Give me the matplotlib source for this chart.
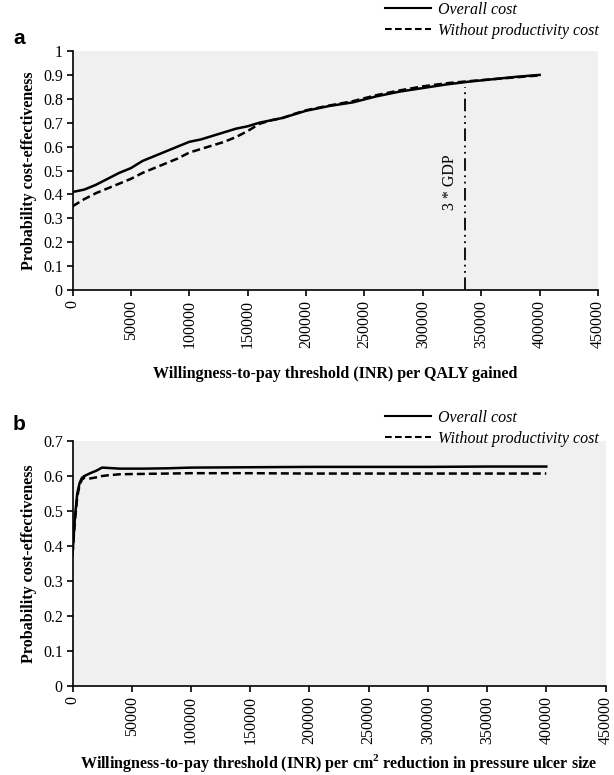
import matplotlib
import matplotlib.pyplot as plt
from matplotlib.lines import Line2D

matplotlib.use("Agg")

plt.rcParams["font.family"] = ["Liberation Serif", "DejaVu Serif"]
plt.rcParams["mathtext.fontset"] = "custom"
plt.rcParams["mathtext.rm"] = "Liberation Serif"
plt.rcParams["mathtext.bf"] = "Liberation Serif:bold"

# Panel a: WTP per QALY gained
wtp_a = [0, 10000, 20000, 30000, 40000, 50000, 60000, 70000, 80000, 90000,
         100000, 110000, 120000, 130000, 140000, 150000, 160000, 170000,
         180000, 190000, 200000, 220000, 240000, 260000, 280000, 300000,
         320000, 340000, 360000, 380000, 400000]
overall_a = [0.41, 0.42, 0.44, 0.465, 0.49, 0.51, 0.54, 0.56, 0.58, 0.60,
             0.62, 0.63, 0.645, 0.66, 0.675, 0.685, 0.70, 0.71, 0.72, 0.735,
             0.75, 0.77, 0.785, 0.81, 0.83, 0.845, 0.86, 0.872, 0.882, 0.892,
             0.90]
without_a = [0.35, 0.38, 0.405, 0.425, 0.445, 0.465, 0.49, 0.51, 0.53, 0.55,
             0.575, 0.59, 0.605, 0.62, 0.64, 0.665, 0.695, 0.71, 0.72, 0.737,
             0.752, 0.772, 0.79, 0.815, 0.835, 0.852, 0.865, 0.874, 0.882,
             0.89, 0.898]
gdp_threshold = 336000
gdp_line_top = 0.85

# Panel b: WTP per cm2 reduction in ulcer size
wtp_b = [0, 2000, 4000, 6000, 8000, 10000, 15000, 20000, 25000, 30000,
         40000, 60000, 80000, 100000, 150000, 200000, 250000, 300000,
         350000, 400000]
overall_b = [0.375, 0.48, 0.55, 0.58, 0.595, 0.60, 0.608, 0.615, 0.624,
             0.623, 0.621, 0.621, 0.622, 0.624, 0.625, 0.626, 0.626, 0.626,
             0.627, 0.627]
without_b = [0.375, 0.47, 0.54, 0.575, 0.59, 0.595, 0.593, 0.596, 0.60,
             0.602, 0.605, 0.606, 0.607, 0.608, 0.608, 0.607, 0.607, 0.607,
             0.607, 0.607]

x_ticks = list(range(0, 450001, 50000))
labels = ["Overall cost", "Without productivity cost"]

W, H = 614, 775
fig = plt.figure(figsize=(W / 100, H / 100), dpi=100)


def style_axes(ax, ymax, ystep):
    ax.set_facecolor("#f0f0f0")
    for s in ("top", "right"):
        ax.spines[s].set_visible(False)
    for s in ("left", "bottom"):
        ax.spines[s].set_linewidth(1.2)
    ax.set_xlim(0, 450000)
    ax.set_ylim(0, ymax)
    ax.set_xticks(x_ticks)
    ax.set_xticklabels([str(t) for t in x_ticks], rotation=90, fontsize=11.5)
    yt = [round(i * ystep, 1) for i in range(int(round(ymax / ystep)) + 1)]
    ax.set_yticks(yt)
    ax.set_yticklabels(["%g" % v for v in yt], fontsize=11.5)
    ax.tick_params(direction="out", length=4, width=1.2, pad=3)
    ax.set_ylabel("Probability cost-effectiveness", fontsize=11.5,
                  fontweight="bold", labelpad=4)


def legend(ax, y0):
    handles = [Line2D([], [], color="black", lw=1.5, ls="-"),
               Line2D([], [], color="black", lw=1.5, ls=(0, (3.2, 1.6)))]
    ax.legend(handles, labels, loc="upper left",
              bbox_to_anchor=(385 / W, y0), bbox_transform=fig.transFigure,
              frameon=False, prop={"style": "italic", "size": 11.5},
              handlelength=2.9, handletextpad=0.4, labelspacing=0.3,
              borderpad=0, borderaxespad=0)


# ---- panel a
ax1 = fig.add_axes([72.5 / W, 1 - 290 / H, 525.5 / W, 239 / H])
style_axes(ax1, 1.0, 0.1)
ax1.plot(wtp_a, overall_a, color="black", lw=1.8)
ax1.plot(wtp_a, without_a, color="black", lw=1.8, ls=(0, (3.2, 1.6)))
ax1.plot([gdp_threshold, gdp_threshold], [0, gdp_line_top], color="black",
         lw=1.3, ls=(0, (7, 2.5, 1, 2.5, 1, 2.5)))
ax1.text(gdp_threshold - 13000, 0.45, "3 * GDP", rotation=90, ha="center",
         va="center", fontsize=11.5)
ax1.set_xlabel("Willingness-to-pay threshold (INR) per QALY gained",
               fontsize=11.5, fontweight="bold", labelpad=13)
legend(ax1, 1 - 2 / H)
fig.text(13 / W, 1 - 38 / H, "a", fontsize=15, fontweight="bold",
         family="Liberation Sans", va="center")

# ---- panel b
ax2 = fig.add_axes([72.5 / W, 1 - 686 / H, 533 / W, 245 / H])
style_axes(ax2, 0.7, 0.1)
ax2.plot(wtp_b, overall_b, color="black", lw=1.8)
ax2.plot(wtp_b, without_b, color="black", lw=1.8, ls=(0, (3.2, 1.6)))
ax2.set_xlabel(r"Willingness-to-pay threshold (INR) per cm$^\mathbf{2}$ "
               "reduction in pressure ulcer size",
               fontsize=11.5, fontweight="bold", labelpad=6)
legend(ax2, 1 - 410 / H)
fig.text(13 / W, 1 - 425 / H, "b", fontsize=15, fontweight="bold",
         family="Liberation Sans", va="center")

fig.savefig("out.png", dpi=100)
